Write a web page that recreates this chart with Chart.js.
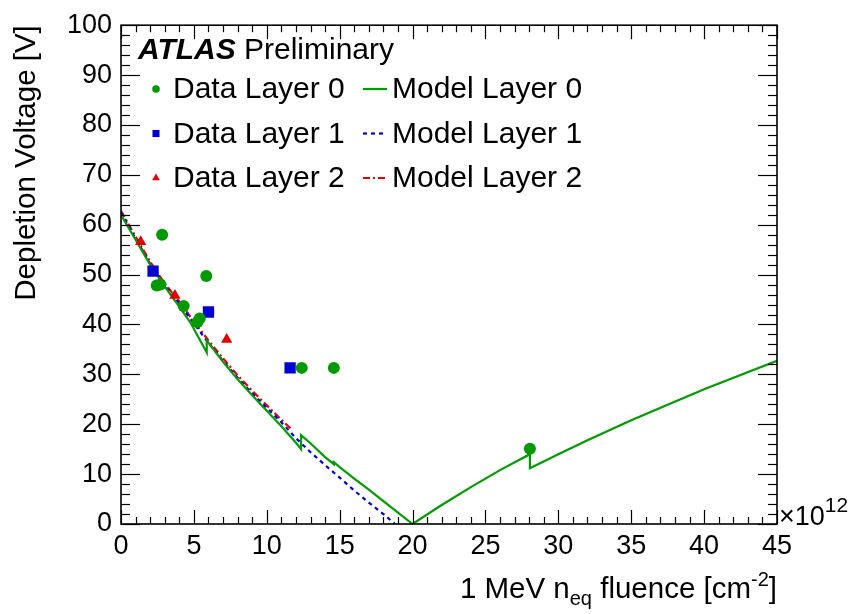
<!DOCTYPE html>
<html lang="en">
<head>
  <meta charset="UTF-8">
  <title>Depletion Voltage vs Fluence</title>
  <script src="https://cdn.jsdelivr.net/npm/chart.js"></script>
  <style>
    body { margin: 0; background: #fff; }
    #wrap { width: 851px; height: 614px; position: relative; }
  </style>
</head>
<body>
  <div id="wrap"><canvas id="depletionChart"></canvas></div>

  <script>
    // Measured points (fluence in 1e12 neq/cm2, depletion voltage in V)
    const dataFluenceL0 = [2.45, 2.7, 2.82, 4.3, 5.25, 5.4, 5.85, 12.4, 14.6, 28.05];
    const dataVoltL0    = [47.8, 48.0, 58.0, 43.7, 40.5, 41.2, 49.7, 31.3, 31.3, 15.1];
    const dataFluenceL1 = [2.2, 6.0, 11.6];
    const dataVoltL1    = [50.7, 42.5, 31.3];
    const dataFluenceL2 = [1.35, 3.7, 7.25];
    const dataVoltL2    = [56.6, 45.8, 37.0];

    // Model curves
    const modelFluenceL0 = [0, 1, 2, 3, 4, 4.8, 5.88, 5.88, 7, 8, 9, 10, 11, 12, 12.35, 12.35, 13, 14, 14.6, 14.6, 15, 16, 17, 18, 19, 20, 22, 24, 26, 28.05, 28.05, 30, 32, 35, 40, 45];
    const modelVoltL0    = [62, 57, 52, 47.6, 43.6, 40.2, 34.4, 36.8, 32.5, 29, 25.8, 22.7, 19.6, 16.3, 15.0, 17.8, 16.2, 13.4, 12.0, 12.4, 11.4, 9.1, 6.9, 4.6, 2.3, 0, 3.8, 7.4, 10.8, 14.0, 11.2, 14.0, 16.8, 20.8, 27.0, 32.7];
    const modelFluenceL1 = [0, 1, 2, 3, 4, 5, 6, 7, 8, 9, 10, 11, 12, 13, 14, 15, 16, 17, 18, 18.8];
    const modelVoltL1    = [62.5, 57.2, 52.2, 47.8, 44.2, 40.2, 36.3, 32.7, 29.3, 26.2, 23.3, 20.4, 17.2, 14.4, 11.8, 9.3, 6.7, 4.3, 2.0, 0];
    const modelFluenceL2 = [0, 1, 2, 3, 4, 5, 6, 7, 8, 9, 10, 11, 11.7];
    const modelVoltL2    = [62.8, 57.6, 52.6, 48.2, 44.6, 40.6, 36.8, 33.2, 29.8, 26.7, 23.8, 20.9, 19.0];

    const xTicks = [0, 5, 10, 15, 20, 25, 30, 35, 40, 45];
    const yTicks = [0, 10, 20, 30, 40, 50, 60, 70, 80, 90, 100];
    const xMinorStep = 1;
    const yMinorStep = 2;

    const GREEN = '#009a00';
    const BLUE = '#0000d0';
    const RED = '#e00000';
    const FONT = '"Liberation Sans", Arial, Helvetica, sans-serif';

    const toPoints = (xs, ys) => xs.map((x, i) => ({ x: x, y: ys[i] }));

    // frame, inward ticks, axis titles and the legend box (ROOT look)
    const rootStyle = {
      id: 'rootStyle',
      afterDraw(chart) {
        const { ctx, chartArea: a, scales: { x, y } } = chart;
        ctx.save();

        ctx.strokeStyle = '#000';
        ctx.lineWidth = 1.2;
        const line = (x1, y1, x2, y2) => { ctx.beginPath(); ctx.moveTo(x1, y1); ctx.lineTo(x2, y2); ctx.stroke(); };
        for (let v = x.min; v <= x.max + 1e-9; v += xMinorStep) {
          const px = Math.round(x.getPixelForValue(v)) + 0.5;
          const len = xTicks.includes(v) ? 14 : 7;
          line(px, a.bottom, px, a.bottom - len);
          line(px, a.top, px, a.top + len);
        }
        for (let v = y.min; v <= y.max + 1e-9; v += yMinorStep) {
          const py = Math.round(y.getPixelForValue(v)) + 0.5;
          const len = yTicks.includes(v) ? 19 : 9;
          line(a.left, py, a.left + len, py);
          line(a.right, py, a.right - len, py);
        }
        ctx.lineWidth = 1.6;
        ctx.strokeRect(a.left, a.top, a.right - a.left, a.bottom - a.top);

        ctx.fillStyle = '#000';
        // y title
        ctx.save();
        ctx.translate(35, a.top);
        ctx.rotate(-Math.PI / 2);
        ctx.font = '29.5px ' + FONT;
        ctx.textAlign = 'right';
        ctx.textBaseline = 'alphabetic';
        ctx.fillText('Depletion Voltage [V]', 0, 0);
        ctx.restore();

        // x title with sub/superscripts, right aligned to the axis end
        const parts = [
          { t: '1 MeV n', f: 29.5, dy: 0 },
          { t: 'eq', f: 20, dy: 7 },
          { t: ' fluence [cm', f: 29.5, dy: 0 },
          { t: '-2', f: 20, dy: -12 },
          { t: ']', f: 29.5, dy: 0 }
        ];
        let total = 0;
        parts.forEach(p => { ctx.font = p.f + 'px ' + FONT; p.w = ctx.measureText(p.t).width; total += p.w; });
        let cx = a.right - total;
        ctx.textAlign = 'left';
        parts.forEach(p => { ctx.font = p.f + 'px ' + FONT; ctx.fillText(p.t, cx, 598 + p.dy); cx += p.w; });

        // x10^12 exponent
        ctx.font = '27px ' + FONT;
        ctx.fillText('\u00d710', a.right + 2, a.bottom + 1);
        const ew = ctx.measureText('\u00d710').width;
        ctx.font = '21px ' + FONT;
        ctx.fillText('12', a.right + 2 + ew, a.bottom - 12);

        // ATLAS Preliminary
        ctx.font = 'italic bold 30px ' + FONT;
        ctx.fillText('ATLAS', 138, 59);
        ctx.font = '30px ' + FONT;
        ctx.fillText('Preliminary', 244, 59);

        // legend: data column and model column
        const ds = chart.data.datasets;
        const rows = [89, 133.5, 178];
        ctx.font = '30px ' + FONT;
        [0, 1, 2].forEach(i => {
          const d = ds[i];
          ctx.fillStyle = d.backgroundColor;
          ctx.strokeStyle = d.borderColor;
          Chart.helpers.drawPoint(ctx, { pointStyle: d.pointStyle, radius: d.legendRadius, rotation: 0, borderWidth: 0 }, 156, rows[i]);
          ctx.fillStyle = '#000';
          ctx.fillText(d.label, 173, rows[i] + 9);

          const m = ds[i + 3];
          ctx.save();
          ctx.strokeStyle = m.borderColor;
          ctx.lineWidth = m.borderWidth;
          ctx.setLineDash(m.borderDash || []);
          ctx.beginPath();
          ctx.moveTo(363, rows[i]);
          ctx.lineTo(387, rows[i]);
          ctx.stroke();
          ctx.restore();
          ctx.fillText(m.label, 392, rows[i] + 9);
        });

        ctx.restore();
      }
    };

    const ctx = document.getElementById('depletionChart').getContext('2d');
    new Chart(ctx, {
      type: 'scatter',
      data: {
        datasets: [
          { label: 'Data Layer 0', data: toPoints(dataFluenceL0, dataVoltL0), pointStyle: 'circle', pointRadius: 6, legendRadius: 3.8, backgroundColor: GREEN, borderColor: GREEN, borderWidth: 0 },
          { label: 'Data Layer 1', data: toPoints(dataFluenceL1, dataVoltL1), pointStyle: 'rect', pointRadius: 8, legendRadius: 5, backgroundColor: BLUE, borderColor: BLUE, borderWidth: 0 },
          { label: 'Data Layer 2', data: toPoints(dataFluenceL2, dataVoltL2), pointStyle: 'triangle', pointRadius: 6.5, legendRadius: 4.5, backgroundColor: RED, borderColor: RED, borderWidth: 0 },
          { label: 'Model Layer 0', data: toPoints(modelFluenceL0, modelVoltL0), showLine: true, pointRadius: 0, borderColor: GREEN, backgroundColor: GREEN, borderWidth: 2.2, tension: 0 },
          { label: 'Model Layer 1', data: toPoints(modelFluenceL1, modelVoltL1), showLine: true, pointRadius: 0, borderColor: BLUE, backgroundColor: BLUE, borderWidth: 2.2, borderDash: [4, 4], tension: 0 },
          { label: 'Model Layer 2', data: toPoints(modelFluenceL2, modelVoltL2), showLine: true, pointRadius: 0, borderColor: RED, backgroundColor: RED, borderWidth: 2.2, borderDash: [7, 3, 2, 3], tension: 0 }
        ]
      },
      options: {
        responsive: true,
        maintainAspectRatio: false,
        animation: false,
        layout: { padding: { top: 20, right: 74, left: 0, bottom: 0 } },
        plugins: { legend: { display: false }, title: { display: false }, tooltip: { enabled: false } },
        scales: {
          x: {
            type: 'linear', min: 0, max: 45,
            grid: { display: false, drawTicks: false },
            border: { display: false },
            afterBuildTicks: s => { s.ticks = xTicks.map(v => ({ value: v })); },
            afterFit: s => { s.height = 90; },
            ticks: { color: '#000', padding: 6, maxRotation: 0, font: { family: FONT, size: 27 } }
          },
          y: {
            type: 'linear', min: 0, max: 100,
            grid: { display: false, drawTicks: false },
            border: { display: false },
            afterBuildTicks: s => { s.ticks = yTicks.map(v => ({ value: v })); },
            afterFit: s => { s.width = 121; },
            ticks: { color: '#000', padding: 9, font: { family: FONT, size: 27 } }
          }
        }
      },
      plugins: [rootStyle]
    });
  </script>
</body>
</html>
